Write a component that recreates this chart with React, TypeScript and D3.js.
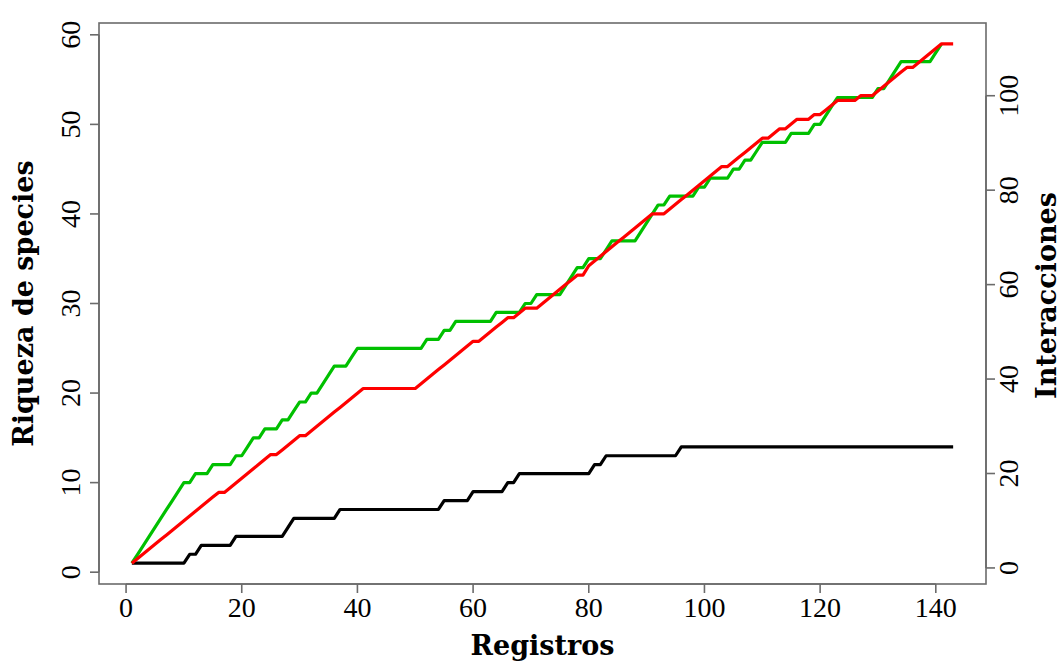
import React from "react";
import * as d3 from "d3";

// Registros (x) for each series
const black: number[] = [
  1,1,1,1,1,1,1,1,1,1,
  2,2,3,3,3,3,3,3,4,4,
  4,4,4,4,4,4,4,5,6,6,
  6,6,6,6,6,6,7,7,7,7,
  7,7,7,7,7,7,7,7,7,7,
  7,7,7,7,8,8,8,8,8,9,
  9,9,9,9,9,10,10,11,11,11,
  11,11,11,11,11,11,11,11,11,11,
  12,12,13,13,13,13,13,13,13,13,
  13,13,13,13,13,14,14,14,14,14,
  14,14,14,14,14,14,14,14,14,14,
  14,14,14,14,14,14,14,14,14,14,
  14,14,14,14,14,14,14,14,14,14,
  14,14,14,14,14,14,14,14,14,14,
  14,14,14,
];

const green: number[] = [
  1,2,3,4,5,6,7,8,9,10,
  10,11,11,11,12,12,12,12,13,13,
  14,15,15,16,16,16,17,17,18,19,
  19,20,20,21,22,23,23,23,24,25,
  25,25,25,25,25,25,25,25,25,25,
  25,26,26,26,27,27,28,28,28,28,
  28,28,28,29,29,29,29,29,30,30,
  31,31,31,31,31,32,33,34,34,35,
  35,35,36,37,37,37,37,37,38,39,
  40,41,41,42,42,42,42,42,43,43,
  44,44,44,44,45,45,46,46,47,48,
  48,48,48,48,49,49,49,49,50,50,
  51,52,53,53,53,53,53,53,53,54,
  54,55,56,57,57,57,57,57,57,58,
  59,
];

// Interacciones (right axis)
const red: number[] = [
  1,2,3,4,5,6,7,8,9,10,
  11,12,13,14,15,16,16,17,18,19,
  20,21,22,23,24,24,25,26,27,28,
  28,29,30,31,32,33,34,35,36,37,
  38,38,38,38,38,38,38,38,38,38,
  39,40,41,42,43,44,45,46,47,48,
  48,49,50,51,52,53,53,54,55,55,
  55,56,57,58,59,60,61,62,62,64,
  65,66,67,68,69,70,71,72,73,74,
  75,75,75,76,77,78,79,80,81,82,
  83,84,85,85,86,87,88,89,90,91,
  91,92,93,93,94,95,95,95,96,96,
  97,98,99,99,99,99,100,100,100,101,
  102,103,104,105,106,106,107,108,109,110,
  111,111,111,
];

const xTicks = [0, 20, 40, 60, 80, 100, 120, 140];
const yLeftTicks = [0, 10, 20, 30, 40, 50, 60];
const yRightTicks = [0, 20, 40, 60, 80, 100];

const xTitle = "Registros";
const yLeftTitle = "Riqueza de species";
const yRightTitle = "Interacciones";

const W = 1061;
const H = 664;
const L = 99, R = 986, T = 23, B = 584;

export default function App() {
  const x = d3.scaleLinear().domain([1 - 0.04 * 142, 143 + 0.04 * 142]).range([L, R]);
  const yL = d3.scaleLinear().domain([1 - 0.04 * 58, 59 + 0.04 * 58]).range([B, T]);
  const yR = d3.scaleLinear().domain([1 - 0.04 * 110, 111 + 0.04 * 110]).range([B, T]);

  const lineL = d3.line<number>().x((_, i) => x(i + 1)).y((d) => yL(d));
  const lineR = d3.line<number>().x((_, i) => x(i + 1)).y((d) => yR(d));

  const axisColor = "#6b6b6b";
  const tickFont = "'Liberation Serif', serif";
  const titleFont = "'DejaVu Serif', serif";

  return (
    <svg
      width={W}
      height={H}
      style={{ position: "absolute", left: 0, top: 0, background: "#fff" }}
    >
      <rect x={0} y={0} width={W} height={H} fill="#fff" />
      {/* box */}
      <rect x={L} y={T} width={R - L} height={B - T} fill="none" stroke={axisColor} strokeWidth={1.6} />

      {/* lines */}
      <g fill="none" strokeWidth={3.2} strokeLinejoin="round" strokeLinecap="butt">
        <path d={lineL(black) || ""} stroke="#000000" />
        <path d={lineL(green) || ""} stroke="#00C000" />
        <path d={lineR(red) || ""} stroke="#FF0000" />
      </g>

      {/* x axis */}
      <line x1={x(xTicks[0])} x2={x(xTicks[xTicks.length - 1])} y1={B} y2={B} stroke={axisColor} strokeWidth={1.6} />
      {xTicks.map((t) => (
        <g key={"x" + t}>
          <line x1={x(t)} x2={x(t)} y1={B} y2={B + 9} stroke={axisColor} strokeWidth={1.6} />
          <text
            x={x(t)}
            y={617}
            textAnchor="middle"
            fontFamily={tickFont}
            fontSize={28}
            fill="#000"
          >
            {t}
          </text>
        </g>
      ))}

      {/* left axis */}
      <line x1={L} x2={L} y1={yL(0)} y2={yL(60)} stroke={axisColor} strokeWidth={1.6} />
      {yLeftTicks.map((t) => (
        <g key={"yl" + t}>
          <line x1={L - 9} x2={L} y1={yL(t)} y2={yL(t)} stroke={axisColor} strokeWidth={1.6} />
          <text
            transform={`translate(80,${yL(t)}) rotate(-90)`}
            textAnchor="middle"
            fontFamily={tickFont}
            fontSize={28}
            fill="#000"
          >
            {t}
          </text>
        </g>
      ))}

      {/* right axis */}
      <line x1={R} x2={R} y1={yR(0)} y2={yR(100)} stroke={axisColor} strokeWidth={1.6} />
      {yRightTicks.map((t) => (
        <g key={"yr" + t}>
          <line x1={R} x2={R + 9} y1={yR(t)} y2={yR(t)} stroke={axisColor} strokeWidth={1.6} />
          <text
            transform={`translate(1018,${yR(t)}) rotate(-90)`}
            textAnchor="middle"
            fontFamily={tickFont}
            fontSize={28}
            fill="#000"
          >
            {t}
          </text>
        </g>
      ))}

      {/* titles */}
      <text
        x={(L + R) / 2}
        y={655}
        textAnchor="middle"
        fontFamily={titleFont}
        fontWeight="bold"
        fontSize={27}
        fill="#000"
      >
        {xTitle}
      </text>
      <text
        transform={`translate(33,${(T + B) / 2}) rotate(-90)`}
        textAnchor="middle"
        fontFamily={titleFont}
        fontWeight="bold"
        fontSize={27}
        fill="#000"
      >
        {yLeftTitle}
      </text>
      <text
        transform={`translate(1056,${(T + B) / 2 - 8}) rotate(-90)`}
        textAnchor="middle"
        fontFamily={titleFont}
        fontWeight="bold"
        fontSize={27}
        fill="#000"
      >
        {yRightTitle}
      </text>
    </svg>
  );
}
